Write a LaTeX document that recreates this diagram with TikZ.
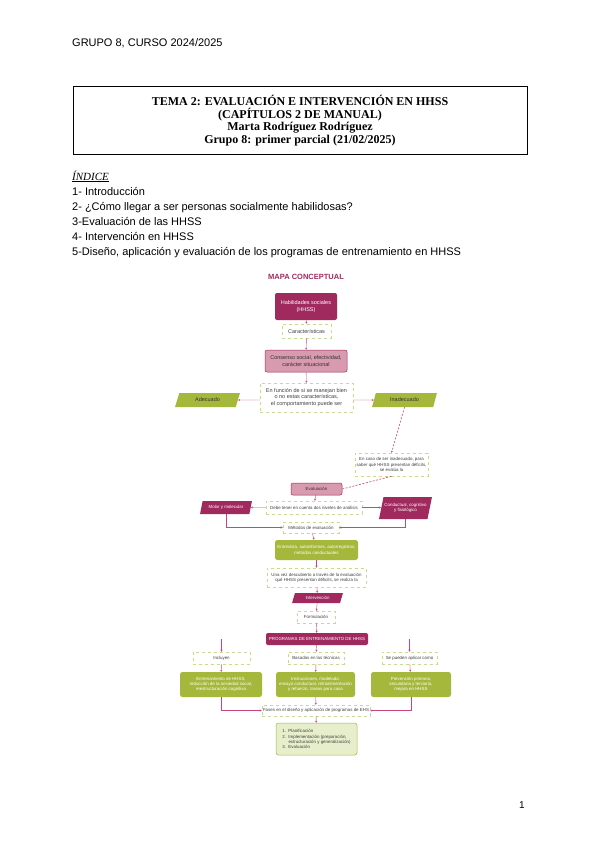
\documentclass[tikz,border=0pt]{standalone}
\usepackage{fontspec}
\setmainfont{Liberation Sans}
\newfontfamily\titlefont{Liberation Serif}
\usepackage{tikz}
\usetikzlibrary{positioning,arrows.meta,calc,shapes.geometric}
\definecolor{magc}{HTML}{A02A5E}
\definecolor{pinkc}{HTML}{D89AAF}
\definecolor{linec}{HTML}{C9467C}
\definecolor{greenc}{HTML}{A6B83C}
\definecolor{dashc}{HTML}{C9D98E}
\definecolor{palec}{HTML}{E6EECB}
\newcommand{\mapfont}{\fontsize{4.4}{5.2}\selectfont}
\newcommand{\topfont}{\fontsize{5.5}{6.6}\selectfont}

\begin{document}
\begin{tikzpicture}[x=1pt,y=-1pt,
    magbox/.style={rounded corners=2pt,fill=magc,text=white,font=\mapfont,align=center,inner sep=0.5pt},
    pinkbox/.style={rounded corners=2pt,fill=pinkc,draw=magc,line width=0.5pt,text=black!80,font=\mapfont,align=center,inner sep=0.5pt},
    dashbox/.style={draw=dashc,dashed,line width=0.5pt,fill=white,font=\mapfont,align=center,text=black!75,inner sep=0.5pt},
    greenbox/.style={rounded corners=2.5pt,fill=greenc,text=white,font=\mapfont,align=center,inner sep=0.5pt},
    slantbox/.style={trapezium,trapezium stretches=true,trapezium left angle=65,trapezium right angle=115,font=\mapfont,align=center,inner sep=0pt},
    con/.style={draw=linec,line width=0.4pt,-{Stealth[length=2pt,width=2pt]}},
    dcon/.style={draw=linec,line width=0.6pt,dash pattern=on 2pt off 1.5pt}]
  \useasboundingbox[fill=white] (0,0) rectangle (600,848);

  % page head
  \node[anchor=base west,inner sep=0pt,font=\fontsize{11}{13}\selectfont] (grupo) at (72,47) {GRUPO 8, CURSO 2024/2025};
  \node[draw,line width=1pt,minimum width=454,minimum height=67,inner sep=0pt] (tbox) at (300,120.5) {};
  \node[align=center,font=\titlefont\bfseries\fontsize{12}{12.6}\selectfont] (ttext) at (tbox.center)
    {TEMA 2: EVALUACIÓN E INTERVENCIÓN EN HHSS\\(CAPÍTULOS 2 DE MANUAL)\\Marta Rodríguez Rodríguez\\Grupo 8: primer parcial (21/02/2025)};

  % indice
  \node[anchor=base west,inner sep=0pt,font=\titlefont\itshape\fontsize{11}{12}\selectfont] (indice) at (72,180) {\underline{ÍNDICE}};
  \foreach \i/\t in {1/{1- Introducción},2/{2- ¿Cómo llegar a ser personas socialmente habilidosas?},3/{3-Evaluación de las HHSS},4/{4- Intervención en HHSS},5/{5-Diseño, aplicación y evaluación de los programas de entrenamiento en HHSS}} {
    \node[anchor=base west,inner sep=0pt,font=\fontsize{11}{12}\selectfont] (idx\i) at (72,{180+15*\i}) {\t};
  }

  % mapa conceptual
  \node[text=magc,font=\bfseries\fontsize{7.5}{8}\selectfont] (mapa) at (306,277) {MAPA CONCEPTUAL};
  \node[magbox,font=\topfont,minimum width=62,minimum height=27] (hhss) at (306,306.5) {Habilidades sociales\\(HHSS)};
  \node[dashbox,font=\topfont,minimum width=49,minimum height=14] (carac) at (306.5,331) {Características};
  \node[pinkbox,font=\topfont,minimum width=82,minimum height=22] (cons) at (306,361) {Consenso social, efectividad,\\carácter situacional};
  \node[dashbox,font=\topfont,minimum width=93,minimum height=29] (func) at (306.5,397.5) {En función de si se manejan bien\\o no estas características,\\el comportamiento puede ser};
  \node[slantbox,font=\topfont,fill=greenc,text=black!80,minimum width=65,minimum height=14] (adec) at (207.5,400) {Adecuado};
  \node[slantbox,font=\topfont,fill=greenc,text=black!80,minimum width=65,minimum height=14] (inadec) at (404.5,400) {Inadecuado};
  \node[dashbox,minimum width=73,minimum height=23] (caso) at (391.5,464.5) {En caso de ser inadecuado, para\\saber qué HHSS presentan déficits,\\se evalúa la};
  \node[pinkbox,minimum width=51,minimum height=12] (eval) at (316.5,489) {Evaluación};
  \node[dashbox,minimum width=96,minimum height=13] (nivel) at (314,507.5) {Debe tener en cuenta dos niveles de análisis};
  \node[slantbox,fill=magc,text=white,minimum width=52,minimum height=13] (molar) at (226,507.5) {Molar y molecular};
  \node[slantbox,fill=magc,text=white,minimum width=53,minimum height=22] (cond) at (405.5,508) {Conductual, cognitivo\\y fisiológico};
  \node[dashbox,minimum width=56,minimum height=11] (metod) at (311,527.5) {Métodos de evaluación};
  \node[greenbox,minimum width=83,minimum height=20] (entrev) at (316.5,550) {Entrevista, autoinformes, autorregistros,\\métodos conductuales};
  \node[dashbox,minimum width=99,minimum height=19] (unavez) at (316.5,577.5) {Una vez descubierto a través de la evaluación\\qué HHSS presentan déficits, se realiza la};
  \node[slantbox,fill=magc,text=white,minimum width=51,minimum height=10] (interv) at (317.5,598) {Intervención};
  \node[dashbox,minimum width=38,minimum height=12] (formul) at (316,617) {Formulación};
  \node[magbox,minimum width=102,minimum height=12] (prog) at (317,639) {PROGRAMAS DE ENTRENAMIENTO DE HHSS};
  \node[dashbox,minimum width=57,minimum height=12] (incl) at (221.5,658) {Incluyen};
  \node[dashbox,minimum width=56,minimum height=12] (basad) at (316,658) {Basados en las técnicas};
  \node[dashbox,minimum width=55,minimum height=12] (segun) at (409.5,658) {Se pueden aplicar como};
  \node[greenbox,minimum width=82,minimum height=25] (gleft) at (221,684.5) {Entrenamiento de HHSS,\\reducción de la ansiedad social,\\reestructuración cognitiva};
  \node[greenbox,minimum width=79,minimum height=25] (gmid) at (315.5,684.5) {Instrucciones, modelado,\\ensayo conductual, retroalimentación\\y refuerzo, tareas para casa};
  \node[greenbox,minimum width=80,minimum height=25] (gright) at (411,684.5) {Prevención primaria,\\secundaria y terciaria,\\mejora en HHSS};
  \node[dashbox,minimum width=108,minimum height=11] (fases) at (316,710.5) {Fases en el diseño y aplicación de programas de EHS};
  \node[rounded corners=2.5pt,fill=palec,draw=greenc,line width=0.5pt,font=\mapfont,align=left,text=black!75,minimum width=81,minimum height=32,inner sep=1pt] (final) at (316.5,739)
    {1.\ \ Planificación\\2.\ \ Implementación (preparación,\\\phantom{2.\ \ }estructuración y generalización)\\3.\ \ Evaluación};
  \coordinate (pl) at (incl.north |- prog);
  \coordinate (pr) at (segun.north |- prog);

  % connectors
  \draw[con] (hhss) -- (carac);
  \draw[con] (carac) -- (cons);
  \draw[con] (cons) -- (func);
  \draw[con] (func.west |- adec) -- (adec.east);
  \draw[con] (func.east |- inadec) -- (inadec.west);
  \draw[dcon,-{Stealth[length=2pt,width=2pt]}] (inadec.south) -- (caso.north);
  \draw[dcon] (caso.south) -- (eval.east);
  \draw[con] (eval) -- (nivel);
  \draw[con] (nivel.west) -- (molar.east);
  \draw[con] (nivel.east) -- (nivel.east -| cond.west);
  \draw[con] (molar.south) |- (metod.west);
  \draw[con] (cond.south) |- (metod.east);
  \draw[con] (metod) -- (entrev);
  \draw[con] (entrev) -- (unavez);
  \draw[con] (unavez) -- (interv);
  \draw[con] (interv) -- (formul);
  \draw[con] (formul) -- (prog);
  \draw[con] (pl) -- (incl);
  \draw[con] (prog) -- (basad);
  \draw[con] (pr) -- (segun);
  \draw[con] (incl) -- (gleft);
  \draw[con] (basad) -- (gmid);
  \draw[con] (segun) -- (gright);
  \draw[con] (gleft.south) |- (fases.west);
  \draw[con] (gright.south) |- (fases.east);
  \draw[con] (gmid) -- (fases);
  \draw[con] (fases) -- (final);

  % pagina
  \node[font=\fontsize{10}{12}\selectfont] (pag) at (522,805) {1};
\end{tikzpicture}
\end{document}
